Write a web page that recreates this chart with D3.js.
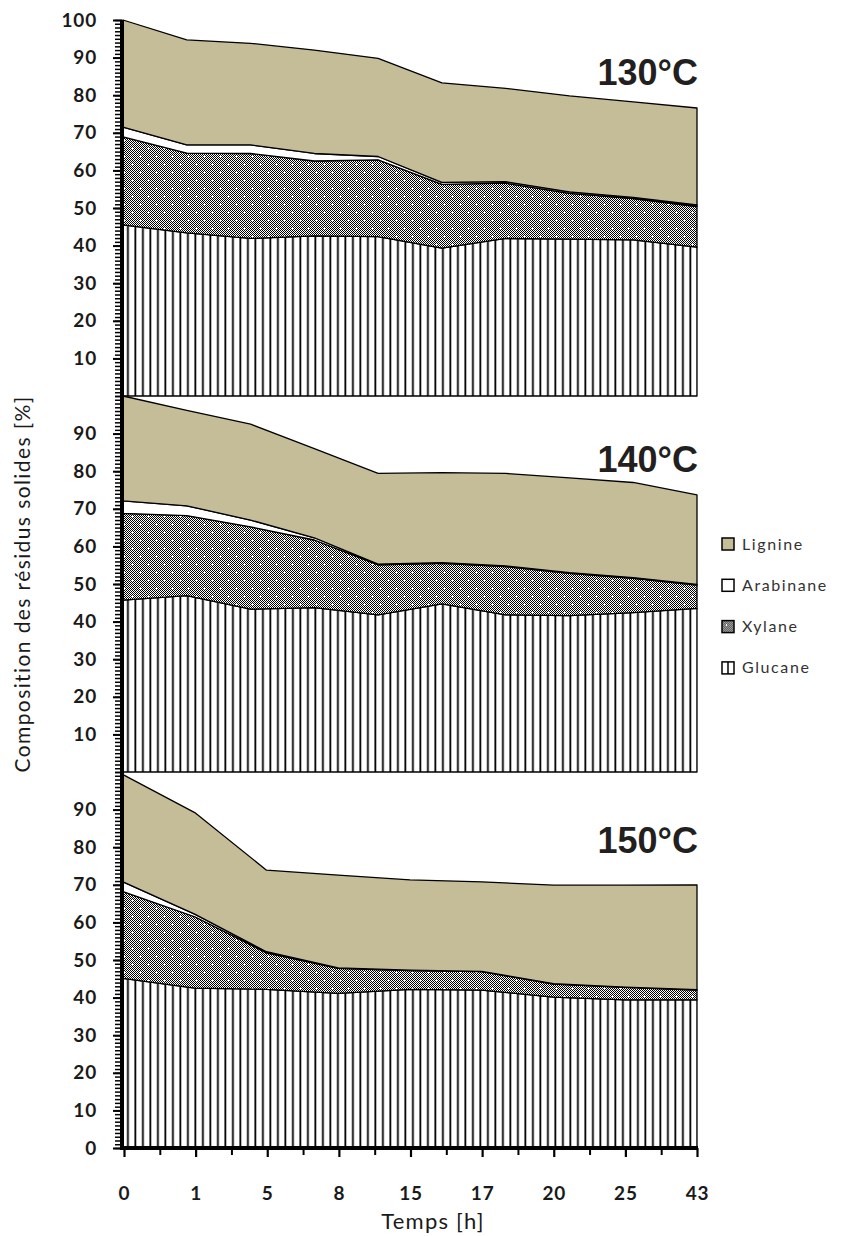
<!DOCTYPE html>
<html><head><meta charset="utf-8">
<script src="https://cdn.jsdelivr.net/npm/d3@7/dist/d3.min.js"></script>
<style>body{margin:0;background:#fff} svg{display:block}</style>
</head><body><svg id="chart" width="843" height="1236"></svg>
<script>
// ---- data ----
const seriesNames = ["Glucane", "Xylane", "Arabinane", "Lignine"];
const legendOrder = ["Lignine", "Arabinane", "Xylane", "Glucane"];
const timeLabels = ["0", "1", "5", "8", "15", "17", "20", "25", "43"];
const panelTitles = ["130°C", "140°C", "150°C"];

const glucane130   = [45.5, 43.4, 41.9, 42.6, 42.4, 39.3, 41.9, 41.7, 41.5, 39.6];
const xylane130    = [23.4, 21.2, 22.6, 19.9, 20.4, 17.0, 14.7, 12.2, 11.0, 10.8];
const arabinane130 = [2.6, 2.2, 2.3, 2.0, 0.9, 0.5, 0.4, 0.4, 0.3, 0.4];
const lignine130   = [28.5, 27.9, 27.0, 27.5, 26.1, 26.5, 24.8, 25.5, 25.4, 25.8];

const glucane140   = [45.7, 46.9, 43.3, 43.7, 41.8, 44.7, 41.8, 41.6, 42.4, 43.5];
const xylane140    = [23.1, 21.3, 21.9, 18.0, 13.3, 10.8, 12.8, 11.2, 9.1, 6.2];
const arabinane140 = [3.3, 2.6, 1.8, 0.6, 0.2, 0.2, 0.2, 0.2, 0.2, 0.2];
const lignine140   = [27.9, 25.4, 25.5, 23.7, 24.1, 23.9, 24.6, 25.2, 25.3, 23.8];

const glucane150   = [45.1, 42.5, 42.2, 41.1, 42.2, 42.0, 40.1, 39.4, 39.4];
const xylane150    = [23.1, 19.0, 9.7, 6.7, 5.0, 4.9, 3.5, 3.3, 2.6];
const arabinane150 = [2.6, 0.7, 0.3, 0.1, 0.1, 0.1, 0.1, 0.1, 0.1];
const lignine150   = [28.5, 27.0, 21.7, 24.7, 24.0, 23.8, 26.2, 27.1, 27.9];

const yTicks130 = [10, 20, 30, 40, 50, 60, 70, 80, 90, 100];
const yTicks140 = [10, 20, 30, 40, 50, 60, 70, 80, 90];
const yTicks150 = [0, 10, 20, 30, 40, 50, 60, 70, 80, 90];

const panels = [
  {title: panelTitles[0], series: [glucane130, xylane130, arabinane130, lignine130], ticks: yTicks130},
  {title: panelTitles[1], series: [glucane140, xylane140, arabinane140, lignine140], ticks: yTicks140},
  {title: panelTitles[2], series: [glucane150, xylane150, arabinane150, lignine150], ticks: yTicks150}
];

// ---- layout ----
const left = 122, right = 697, top0 = 20, panelH = 376;
const bottom = top0 + panelH * 3;
const numFont = "Lato, 'Open Sans', sans-serif";

const svg = d3.select("#chart");
const defs = svg.append("defs");

// checkerboard
const checker = defs.append("pattern").attr("id", "checker")
  .attr("patternUnits", "userSpaceOnUse").attr("width", 2).attr("height", 2);
checker.append("rect").attr("width", 2).attr("height", 2).attr("fill", "#fff");
checker.append("rect").attr("width", 1).attr("height", 1).attr("fill", "#000");
checker.append("rect").attr("x", 1).attr("y", 1).attr("width", 1).attr("height", 1).attr("fill", "#000");

// xylane: checker with white plus marks
const xyl = defs.append("pattern").attr("id", "xylane")
  .attr("patternUnits", "userSpaceOnUse").attr("width", 16).attr("height", 16);
xyl.append("rect").attr("width", 16).attr("height", 16).attr("fill", "url(#checker)");
[[4, 4], [12, 12]].forEach(([cx, cy]) => {
  xyl.append("rect").attr("x", cx - 1).attr("y", cy).attr("width", 3).attr("height", 1).attr("fill", "#fff");
  xyl.append("rect").attr("x", cx).attr("y", cy - 1).attr("width", 1).attr("height", 3).attr("fill", "#fff");
});

// glucane: vertical stripes
const glu = defs.append("pattern").attr("id", "glucane")
  .attr("patternUnits", "userSpaceOnUse").attr("width", 7.5).attr("height", 10).attr("x", left);
glu.append("rect").attr("width", 7.5).attr("height", 10).attr("fill", "#fff");
glu.append("rect").attr("x", 5).attr("width", 1.8).attr("height", 10).attr("fill", "#000");

const fills = {Glucane: "url(#glucane)", Xylane: "url(#xylane)", Arabinane: "#ffffff", Lignine: "#c4bd98"};

// ---- panels ----
panels.forEach((p, pi) => {
  const y = d3.scaleLinear().domain([0, 100]).range([top0 + panelH * (pi + 1), top0 + panelH * pi]);
  const n = p.series[0].length;
  const x = d3.scalePoint().domain(d3.range(n)).range([left + 1, right]);
  const rows = d3.range(n).map(i => {
    const r = {i};
    seriesNames.forEach((s, k) => r[s] = p.series[k][i]);
    return r;
  });
  const stacked = d3.stack().keys(seriesNames)(rows);
  const area = d3.area().x(d => x(d.data.i)).y0(d => y(d[0])).y1(d => y(d[1]));
  const g = svg.append("g");
  g.selectAll("path").data(stacked).join("path")
    .attr("d", area)
    .attr("fill", d => fills[d.key])
    .attr("stroke", "#000").attr("stroke-width", 1.3).attr("stroke-linejoin", "round");

  // minor y ticks
  svg.append("g").attr("transform", `translate(${left},0)`)
    .call(d3.axisLeft(y).tickValues(d3.range(0, 101, 1)).tickSize(7).tickFormat(""))
    .call(a => a.select(".domain").remove())
    .call(a => a.selectAll("line").attr("stroke", "#000").attr("stroke-width", 1.5));
  // major y ticks + labels
  svg.append("g").attr("transform", `translate(${left},0)`)
    .call(d3.axisLeft(y).tickValues(p.ticks).tickSize(9).tickPadding(16).tickFormat(d3.format("d")))
    .call(a => a.select(".domain").remove())
    .call(a => a.selectAll("line").attr("stroke", "#000").attr("stroke-width", 2))
    .call(a => a.selectAll("text").attr("font-family", numFont).attr("font-weight", "bold")
      .attr("font-size", 19).attr("letter-spacing", 0.8).attr("fill", "#1a1a1a"));

  svg.append("text").attr("x", 698).attr("y", y(100) + [65, 76, 81][pi])
    .attr("text-anchor", "end").attr("font-family", "'Liberation Sans', Arial, sans-serif")
    .attr("font-weight", "bold").attr("font-size", 36).attr("fill", "#231f20").text(p.title);
});

// y axis line
svg.append("line").attr("x1", left).attr("x2", left).attr("y1", top0).attr("y2", bottom + 1)
  .attr("stroke", "#000").attr("stroke-width", 4);

// x axis
const xa = d3.scalePoint().domain(timeLabels).range([left + 2, right]);
const half = xa.step() / 2;
svg.append("g").attr("transform", `translate(0,${bottom})`)
  .call(d3.axisBottom(d3.scaleLinear().domain([0, 1]).range([0, 1]))
    .tickValues(timeLabels.slice(0, -1).map(l => xa(l) + half)).tickSize(7).tickFormat(""))
  .call(a => a.select(".domain").remove())
  .call(a => a.selectAll("line").attr("stroke", "#000").attr("stroke-width", 2));
svg.append("g").attr("transform", `translate(0,${bottom})`)
  .call(d3.axisBottom(xa).tickSize(9).tickPadding(30))
  .call(a => a.select(".domain").remove())
  .call(a => a.selectAll("line").attr("stroke", "#000").attr("stroke-width", 2.2))
  .call(a => a.selectAll("text").attr("font-family", numFont).attr("font-weight", "bold")
    .attr("font-size", 19).attr("letter-spacing", 0.8).attr("fill", "#1a1a1a"));
svg.append("line").attr("x1", left - 2).attr("x2", right + 1).attr("y1", bottom).attr("y2", bottom)
  .attr("stroke", "#000").attr("stroke-width", 4);

// axis titles
svg.append("text").attr("x", 433).attr("y", 1229).attr("text-anchor", "middle")
  .attr("font-family", numFont).attr("font-size", 22).attr("letter-spacing", 1.2)
  .attr("fill", "#1a1a1a").text("Temps [h]");
svg.append("text").attr("transform", "translate(30,584) rotate(-90)").attr("text-anchor", "middle")
  .attr("font-family", numFont).attr("font-size", 21).attr("letter-spacing", 1.4).attr("fill", "#1a1a1a")
  .text("Composition des résidus solides [%]");

// legend
const lg = svg.append("g").attr("transform", "translate(722,538)");
const li = lg.selectAll("g").data(legendOrder).join("g").attr("transform", (d, i) => `translate(0,${i * 41.3})`);
li.append("rect").attr("width", 12).attr("height", 12)
  .attr("fill", d => d === "Glucane" ? "#fff" : d === "Xylane" ? "url(#xylane)" : fills[d])
  .attr("stroke", "#000").attr("stroke-width", 1.5);
li.filter(d => d === "Glucane").append("line").attr("x1", 6).attr("x2", 6).attr("y1", 0).attr("y2", 12)
  .attr("stroke", "#000").attr("stroke-width", 1.5);
li.append("text").attr("x", 20).attr("y", 11.5).attr("font-family", numFont).attr("font-size", 16)
  .attr("letter-spacing", 1.6).attr("fill", "#333").text(d => d);
</script></body></html>
